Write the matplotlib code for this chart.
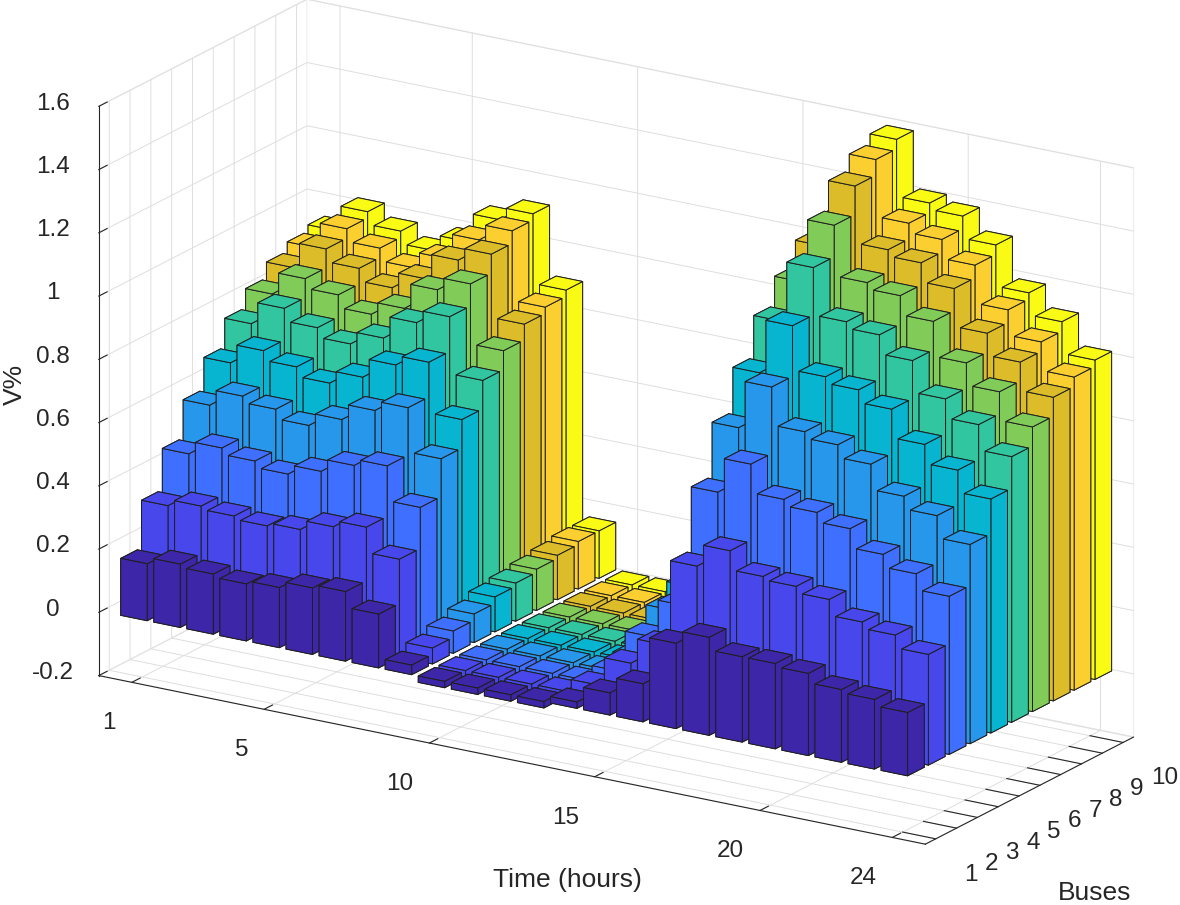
import numpy as np
import matplotlib
matplotlib.use("Agg")
import matplotlib.pyplot as plt

plt.rcParams['font.family'] = ['Liberation Sans', 'DejaVu Sans']

# hours on the time axis
hours = list(range(1, 25))
buses = list(range(1, 11))

# V%, one list per bus (24 hours each)
bus1 = [0.18, 0.20, 0.19, 0.18, 0.19, 0.21, 0.22, 0.17, 0.03, -0.02, -0.02, -0.02,
        -0.02, 0.02, 0.07, 0.12, 0.27, 0.31, 0.27, 0.27, 0.26, 0.23, 0.22, 0.20]
bus2 = [0.33, 0.35, 0.34, 0.33, 0.34, 0.37, 0.39, 0.31, 0.05, -0.02, -0.02, -0.02,
        -0.02, 0.04, 0.13, 0.21, 0.48, 0.55, 0.49, 0.48, 0.46, 0.41, 0.39, 0.35]
bus3 = [0.46, 0.50, 0.48, 0.46, 0.49, 0.53, 0.55, 0.44, 0.07, -0.02, -0.02, -0.02,
        -0.02, 0.05, 0.18, 0.30, 0.68, 0.79, 0.70, 0.68, 0.65, 0.59, 0.55, 0.50]
bus4 = [0.58, 0.63, 0.61, 0.58, 0.62, 0.67, 0.70, 0.56, 0.09, -0.025, -0.025, -0.025,
        -0.025, 0.06, 0.23, 0.38, 0.85, 1.00, 0.88, 0.86, 0.82, 0.74, 0.70, 0.63]
bus5 = [0.68, 0.74, 0.71, 0.68, 0.72, 0.78, 0.81, 0.65, 0.11, -0.025, -0.025, -0.025,
        -0.025, 0.07, 0.27, 0.44, 0.99, 1.16, 1.02, 1.00, 0.96, 0.87, 0.81, 0.74]
bus6 = [0.77, 0.84, 0.80, 0.77, 0.81, 0.88, 0.92, 0.74, 0.12, -0.025, -0.025, -0.025,
        -0.025, 0.08, 0.31, 0.50, 1.12, 1.31, 1.16, 1.14, 1.08, 0.98, 0.92, 0.84]
bus7 = [0.83, 0.90, 0.87, 0.83, 0.87, 0.95, 0.99, 0.80, 0.13, -0.025, -0.025, -0.025,
        -0.025, 0.09, 0.33, 0.54, 1.21, 1.41, 1.25, 1.23, 1.17, 1.06, 0.99, 0.90]
bus8 = [0.88, 0.96, 0.92, 0.88, 0.93, 1.01, 1.05, 0.85, 0.14, -0.03, -0.03, -0.03,
        -0.03, 0.09, 0.35, 0.57, 1.29, 1.50, 1.32, 1.30, 1.24, 1.12, 1.05, 0.96]
bus9 = [0.91, 0.99, 0.95, 0.91, 0.96, 1.04, 1.09, 0.87, 0.15, -0.03, -0.03, -0.03,
        -0.03, 0.10, 0.36, 0.59, 1.33, 1.55, 1.37, 1.34, 1.28, 1.16, 1.08, 0.99]
bus10 = [0.93, 1.01, 0.97, 0.93, 0.98, 1.07, 1.11, 0.89, 0.15, -0.03, -0.03, -0.03,
         -0.03, 0.10, 0.37, 0.60, 1.36, 1.58, 1.40, 1.38, 1.31, 1.18, 1.11, 1.01]

V = [bus1, bus2, bus3, bus4, bus5, bus6, bus7, bus8, bus9, bus10]

# parula colours picked for 10 series (like MATLAB bar3)
bus_colors = [(0.2422, 0.1504, 0.6603), (0.2803, 0.2782, 0.9221),
              (0.2440, 0.4358, 0.9988), (0.1540, 0.5902, 0.9218),
              (0.0297, 0.7082, 0.8163), (0.1938, 0.7758, 0.6251),
              (0.5044, 0.7993, 0.3480), (0.8634, 0.7406, 0.1596),
              (0.9892, 0.8136, 0.1885), (0.9769, 0.9839, 0.0805)]

time_ticks = [1, 5, 10, 15, 20, 24]
z_ticks = [-0.2, 0, 0.2, 0.4, 0.6, 0.8, 1, 1.2, 1.4, 1.6]
z_ticklabels = ['-0.2', '0', '0.2', '0.4', '0.6', '0.8', '1', '1.2', '1.4', '1.6']

ELEV, AZIM = 18.9, -57.8
W = 0.8
TXT = (0.15, 0.15, 0.15)

fig = plt.figure(figsize=(11.8, 9.05), dpi=100)
ax = fig.add_axes([0.0118, 0.0205, 1.0, 1.0], projection='3d', computed_zorder=False)
ax.set_proj_type('ortho')
ax.view_init(elev=ELEV, azim=AZIM)
ax.set_box_aspect((25, 10, 15.4), zoom=1.30)

# painter's order: draw far bars first
cx, sy = np.cos(np.radians(AZIM)), np.sin(np.radians(AZIM))
for k, b in enumerate(buses):
    for i, t in enumerate(hours):
        v = V[k][i]
        depth = t * cx + b * sy
        bars = ax.bar3d(t - W / 2, b - W / 2, 0, W, W, v, color=bus_colors[k],
                        shade=False, edgecolor=(0.12, 0.12, 0.12), linewidth=0.7,
                        zorder=10 + depth)
        bars.set_clip_on(False)

ax.set_xlim(0, 25)
ax.set_ylim(0.5, 10.5)
ax.set_zlim(-0.2, 1.6)
ax.set_xticks(time_ticks)
ax.set_yticks(buses)
ax.set_zticks(z_ticks)
ax.set_zticklabels(z_ticklabels)

for axis in (ax.xaxis, ax.yaxis, ax.zaxis):
    axis.pane.set_facecolor('white')
    axis.pane.set_edgecolor((0.88, 0.88, 0.88))
    axis.line.set_color(TXT)
    axis.line.set_linewidth(0.8)
    axis._axinfo['grid']['color'] = (0.87, 0.87, 0.87)
    axis._axinfo['grid']['linewidth'] = 0.7
    axis._axinfo['tick']['inward_factor'] = 0.0
    axis._axinfo['tick']['outward_factor'] = 0.5
ax.tick_params(labelsize=17.5, colors=TXT)
ax.zaxis.set_ticks_position('lower')
ax.xaxis.set_tick_params(pad=18)
ax.zaxis.set_tick_params(pad=7)
for lab in ax.get_xticklabels():
    lab.set_ha('right')
    lab.set_va('bottom')
for lab in ax.get_yticklabels():
    lab.set_ha('left')
    lab.set_va('top')
for lab in ax.get_zticklabels():
    lab.set_va('center')

fig.text(0.013, 0.575, 'V%', rotation=90, fontsize=19, ha='center', va='center',
         color=TXT)
fig.text(0.481, 0.028, 'Time (hours)', fontsize=19, ha='center', va='center',
         color=TXT)
fig.text(0.928, 0.013, 'Buses', fontsize=19, ha='center', va='center',
         color=TXT)

fig.savefig('out.png', dpi=100)
